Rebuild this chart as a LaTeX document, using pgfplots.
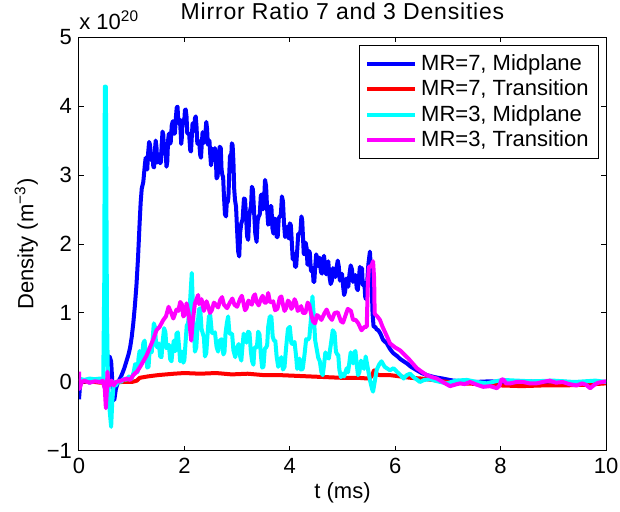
\documentclass[border=0pt]{standalone}
\usepackage{fontspec}
\setmainfont{Liberation Sans}
\usepackage{pgfplots}
\pgfplotsset{compat=1.18}
\newcommand{\ff}{\fontsize{11}{13}\selectfont}
\newcommand{\tf}{\fontsize{11.5}{13}\selectfont\addfontfeatures{LetterSpace=3.5}}
\begin{document}
\begin{tikzpicture}
\begin{axis}[
  scale only axis, width=263.5pt, height=207pt,
  xmin=0, xmax=10, ymin=-1, ymax=5,
  xtick={0,2,4,6,8,10}, xticklabels={0,2,4,6,8,10},
  ytick={-1,0,1,2,3,4,5}, yticklabels={−1,0,1,2,3,4,5},
  tick align=inside, tick pos=both, major tick length=2.5pt,
  every tick/.style={black, line width=0.5pt},
  axis line style={line width=0.5pt},
  tick label style={font=\ff},
  every axis title shift=0pt,
  title={Mirror Ratio 7 and 3 Densities},
  title style={font=\tf, at={(rel axis cs:0.5,1)}, anchor=base, yshift=9pt},
  xlabel={t (ms)},
  xlabel style={font=\ff, at={(rel axis cs:0.5,0)}, anchor=base, yshift=-24pt},
  ylabel={Density (m\textsuperscript{−3})},
  ylabel style={font=\ff, at={(rel axis cs:0,0.5)}, anchor=base, rotate=0, yshift=22.8pt},
  legend style={font=\ff, at={(rel axis cs:1,1)}, anchor=north east, xshift=-3.5pt, yshift=-4pt,
    draw=black, line width=0.5pt, inner xsep=3pt, inner ysep=2.5pt, row sep=-0.8pt},
  legend cell align=left,
  legend image code/.code={\draw[#1, line width=2pt] (0pt,0pt) -- (24pt,0pt);},
  every axis plot/.append style={line width=2pt, line join=round},
]
\addplot[color={rgb,1:red,0;green,0;blue,1}] coordinates {
(0.00,-0.25)(0.02,-0.05)(0.05,0.02)(0.1,0.0)(0.15,0.02)(0.2,-0.01)(0.25,0.01)(0.3,0.0)(0.35,0.02)(0.4,0.0)(0.45,0.01)(0.48,-0.05)(0.52,-0.15)(0.55,0.1)(0.58,0.37)(0.61,0.3)(0.64,-0.1)(0.67,-0.26)(0.7,-0.1)(0.74,0.0)(0.78,0.05)(0.82,0.12)(0.86,0.2)(0.9,0.3)(0.94,0.4)(0.97,0.5)(1.0,0.65)(1.03,0.85)(1.06,1.1)(1.09,1.4)(1.12,1.8)(1.15,2.3)(1.17,2.6)(1.19,2.8)(1.22,2.9)
(1.25,3.15)(1.265,3.25)(1.28,3.1)(1.295,3.08)(1.31,3.3)(1.33,3.48)(1.35,3.43)(1.365,3.22)(1.38,3.25)(1.395,3.3)(1.41,3.12)(1.425,3.11)(1.44,3.35)(1.455,3.5)(1.47,3.41)(1.485,3.18)(1.5,3.2)(1.52,3.3)(1.54,3.17)(1.555,3.19)(1.57,3.45)(1.585,3.63)(1.6,3.58)(1.615,3.32)(1.63,3.3)(1.645,3.33)(1.66,3.12)(1.675,3.19)(1.69,3.5)(1.705,3.6)(1.72,3.45)(1.74,3.47)(1.76,3.72)(1.78,3.78)(1.8,3.6)(1.82,3.6)(1.84,3.85)(1.855,3.98)(1.87,3.99)(1.885,3.75)(1.9,3.75)(1.915,3.8)(1.93,3.6)(1.94,3.45)(1.95,3.53)(1.965,3.79)(1.98,3.8)(1.995,3.75)(2.01,3.94)(2.025,3.95)(2.04,3.85)(2.055,3.6)(2.07,3.6)(2.09,3.6)(2.11,3.36)(2.125,3.34)(2.14,3.55)(2.155,3.75)(2.17,3.7)(2.185,3.64)(2.2,3.82)(2.215,3.85)(2.23,3.7)(2.245,3.46)(2.26,3.45)(2.28,3.49)(2.3,3.29)(2.315,3.25)(2.33,3.45)(2.345,3.62)(2.36,3.55)(2.38,3.47)(2.4,3.62)(2.415,3.77)(2.43,3.67)(2.445,3.44)(2.46,3.45)(2.475,3.5)(2.49,3.3)(2.505,3.14)(2.52,3.22)(2.535,3.38)(2.55,3.3)(2.565,3.22)(2.58,3.39)(2.595,3.29)(2.61,2.95)(2.63,2.98)(2.65,3.2)(2.67,3.41)(2.69,3.39)(2.705,3.08)(2.72,3.0)(2.735,2.97)(2.75,2.7)(2.77,2.43)(2.79,2.4)(2.805,2.62)(2.82,2.6)(2.835,2.68)(2.85,3.0)(2.865,3.27)(2.88,3.3)(2.89,3.28)(2.9,3.46)(2.915,3.43)(2.93,3.2)(2.945,2.8)(2.96,2.64)(2.98,2.54)(3.0,2.2)(3.02,1.89)(3.04,1.82)(3.06,2.18)(3.08,2.3)(3.105,2.36)(3.13,2.66)(3.15,2.65)(3.17,2.4)(3.19,2.11)(3.21,2.06)(3.23,2.4)(3.25,2.5)(3.265,2.55)(3.28,2.83)(3.3,2.79)(3.32,2.5)(3.345,2.15)(3.37,2.03)(3.39,2.34)(3.41,2.4)(3.43,2.43)(3.45,2.7)(3.47,2.72)(3.49,2.5)(3.51,2.6)(3.53,2.93)(3.55,2.84)(3.57,2.5)(3.59,2.28)(3.61,2.3)(3.63,2.55)(3.65,2.55)(3.67,2.23)(3.69,2.15)(3.71,2.37)(3.73,2.35)(3.75,2.1)(3.77,2.1)(3.79,2.37)(3.81,2.4)(3.83,2.42)(3.85,2.69)(3.87,2.62)(3.89,2.3)(3.91,2.1)(3.93,2.15)(3.95,2.25)(3.97,2.1)(3.985,2.08)(4.0,2.3)(4.02,2.27)(4.04,2.0)(4.055,1.78)(4.07,1.8)(4.085,1.86)(4.1,1.67)(4.12,1.67)(4.14,1.9)(4.16,2.15)(4.18,2.15)(4.2,2.16)(4.22,2.4)(4.235,2.35)(4.25,2.1)(4.265,1.86)(4.28,1.85)(4.3,2.02)(4.32,1.94)(4.335,1.7)(4.35,1.7)(4.365,1.9)(4.38,1.87)(4.4,1.62)(4.42,1.6)(4.435,1.65)(4.45,1.45)(4.465,1.45)(4.48,1.65)(4.5,1.85)(4.52,1.8)(4.535,1.68)(4.55,1.8)(4.57,1.8)(4.59,1.6)(4.61,1.57)(4.63,1.77)(4.65,1.83)(4.67,1.65)(4.69,1.56)(4.71,1.7)(4.73,1.75)(4.75,1.55)(4.775,1.42)(4.8,1.47)(4.82,1.65)(4.84,1.6)(4.865,1.52)(4.89,1.67)(4.91,1.76)(4.93,1.67)(4.95,1.47)(4.97,1.5)(4.99,1.57)(5.01,1.4)(5.03,1.26)(5.05,1.31)(5.07,1.5)(5.09,1.45)(5.11,1.38)(5.13,1.55)(5.155,1.69)(5.18,1.63)(5.2,1.45)(5.22,1.5)(5.245,1.55)(5.27,1.36)(5.29,1.33)(5.31,1.5)(5.33,1.67)(5.35,1.6)(5.37,1.65)(5.385,1.4)(5.4,1.4)(5.415,1.44)(5.43,1.24)(5.445,1.2)(5.46,1.35)(5.49,1.7)(5.52,1.89)(5.55,1.5)(5.57,1.0)(5.59,0.8)(5.62,0.8)(5.65,0.76)(5.68,0.75)(5.72,0.7)(5.77,0.61)(5.84,0.56)(5.9,0.48)(5.96,0.42)(6.03,0.38)(6.1,0.33)(6.16,0.3)(6.22,0.27)(6.3,0.22)(6.41,0.17)(6.5,0.13)(6.6,0.1)(6.75,0.07)(6.9,0.05)(7.1,0.02)(7.3,0.01)(7.5,0.0)(7.8,0.01)(8.0,0.0)(8.2,0.0)(8.5,0.01)(8.8,0.0)(9.1,0.01)(9.4,-0.01)(9.7,0.0)(10.0,0.0)
};
\addlegendentry{MR=7, Midplane}
\addplot[color={rgb,1:red,1;green,0;blue,0}] coordinates {
(0,0.0)(0.2,0.01)(0.4,-0.01)(0.5,0.0)(0.55,0.03)(0.6,-0.02)(0.8,0.0)(1.0,0.0)(1.1,0.02)(1.15,0.06)(1.3,0.08)(1.5,0.1)(1.8,0.12)(2.0,0.13)(2.3,0.12)(2.6,0.13)(2.9,0.11)(3.2,0.12)(3.5,0.1)(3.8,0.1)(4.1,0.09)(4.4,0.08)(4.7,0.07)(5.0,0.06)(5.3,0.06)(5.5,0.05)(5.55,0.08)(5.6,0.17)(5.63,0.12)(5.7,0.1)(5.9,0.1)(6.1,0.08)(6.3,0.06)(6.5,0.05)(6.8,0.02)(7.0,0.0)(7.3,-0.02)(7.6,-0.03)(8.0,-0.05)(8.4,-0.06)(8.8,-0.05)(9.2,-0.05)(9.6,-0.04)(10.0,-0.02)
};
\addlegendentry{MR=7, Transition}
\addplot[color={rgb,1:red,0;green,1;blue,1}] coordinates {
(0,0.05)(0.1,0.03)(0.2,0.05)(0.3,0.04)(0.4,0.05)(0.46,0.03)(0.48,1.5)(0.49,4.28)(0.51,4.28)(0.53,1.0)(0.55,0.0)(0.58,-0.4)(0.61,-0.65)(0.63,-0.3)(0.66,0.0)(0.7,-0.05)(0.75,0.02)(0.8,0.0)(0.85,0.05)(0.9,0.03)(0.95,0.08)(1.0,0.05)
(1.04,0.15)(1.065,0.26)(1.09,0.17)(1.11,0.14)(1.13,0.35)(1.15,0.45)(1.17,0.3)(1.195,0.31)(1.22,0.56)(1.245,0.6)(1.27,0.4)(1.295,0.21)(1.32,0.22)(1.34,0.46)(1.36,0.45)(1.38,0.43)(1.4,0.65)(1.42,0.85)(1.44,0.8)(1.465,0.53)(1.49,0.5)(1.515,0.56)(1.54,0.37)(1.565,0.36)(1.59,0.6)(1.615,0.78)(1.64,0.72)(1.66,0.49)(1.68,0.5)(1.705,0.54)(1.73,0.33)(1.755,0.3)(1.78,0.5)(1.8,0.6)(1.82,0.45)(1.835,0.45)(1.85,0.7)(1.875,0.72)(1.9,0.5)(1.92,0.3)(1.94,0.35)(1.96,0.44)(1.98,0.28)(2.0,0.32)(2.02,0.55)(2.045,0.82)(2.07,0.85)(2.11,1.2)(2.14,1.58)(2.17,0.9)(2.2,0.44)(2.225,0.5)(2.25,0.8)(2.275,1.05)(2.3,1.07)(2.325,0.77)(2.35,0.7)(2.37,0.65)(2.39,0.37)(2.415,0.42)(2.44,0.7)(2.465,0.95)(2.49,0.97)(2.52,0.72)(2.55,0.7)(2.58,0.72)(2.61,0.51)(2.64,0.44)(2.67,0.6)(2.705,0.62)(2.74,0.4)(2.76,0.43)(2.78,0.7)(2.805,0.85)(2.83,0.95)(2.855,0.7)(2.88,0.7)(2.905,0.7)(2.93,0.46)(2.965,0.36)(3.0,0.5)(3.03,0.55)(3.06,0.36)(3.08,0.31)(3.1,0.5)(3.125,0.7)(3.15,0.65)(3.18,0.57)(3.21,0.73)(3.235,0.71)(3.26,0.45)(3.285,0.3)(3.31,0.25)(3.33,0.5)(3.35,0.5)(3.375,0.5)(3.4,0.73)(3.425,0.69)(3.45,0.4)(3.475,0.21)(3.5,0.22)(3.525,0.48)(3.55,0.5)(3.57,0.53)(3.59,0.8)(3.62,0.95)(3.65,0.95)(3.675,0.66)(3.7,0.6)(3.725,0.6)(3.75,0.37)(3.78,0.22)(3.81,0.3)(3.84,0.36)(3.87,0.18)(3.9,0.22)(3.93,0.5)(3.965,0.77)(4.0,0.8)(4.03,0.56)(4.06,0.55)(4.09,0.58)(4.12,0.37)(4.14,0.19)(4.16,0.25)(4.185,0.34)(4.21,0.18)(4.245,0.19)(4.28,0.4)(4.31,0.62)(4.34,0.61)(4.37,0.64)(4.4,0.9)(4.43,1.24)(4.46,0.9)(4.48,0.61)(4.54,0.35)(4.57,0.3)(4.6,0.14)(4.625,0.1)(4.65,0.25)(4.675,0.43)(4.7,0.37)(4.74,0.34)(4.78,0.55)(4.815,0.75)(4.85,0.71)(4.875,0.44)(4.9,0.4)(4.92,0.39)(4.94,0.18)(4.97,0.07)(5.0,0.12)(5.03,0.08)(5.08,0.2)(5.105,0.14)(5.13,0.28)(5.155,0.43)(5.18,0.35)(5.2,0.27)(5.22,0.42)(5.245,0.45)(5.27,0.25)(5.295,0.1)(5.32,0.14)(5.35,0.31)(5.38,0.25)(5.41,0.19)(5.44,0.37)(5.48,0.2)(5.52,0.03)(5.56,-0.1)(5.58,-0.14)(5.61,0.0)(5.65,0.18)(5.7,0.26)(5.74,0.3)(5.8,0.22)(5.9,0.17)(5.97,0.2)(6.03,0.15)(6.1,0.1)(6.16,0.05)(6.22,0.1)(6.28,0.12)(6.35,0.07)(6.47,0.0)(6.55,0.03)(6.66,0.04)(6.8,0.01)(6.98,-0.02)(7.15,0.02)(7.36,0.03)(7.55,0.0)(7.74,-0.02)(7.9,0.01)(8.05,0.03)(8.3,0.02)(8.6,0.01)(9.0,0.02)(9.4,0.0)(9.8,0.02)(10.0,0.0)
};
\addlegendentry{MR=3, Midplane}
\addplot[color={rgb,1:red,1;green,0;blue,1}] coordinates {
(0.0,0.15)(0.01,-0.1)(0.05,0.0)(0.1,0.02)(0.2,-0.01)(0.3,0.01)(0.4,0.0)(0.45,0.02)(0.49,-0.1)(0.51,-0.38)(0.53,-0.1)(0.54,0.15)(0.56,0.0)(0.58,-0.05)(0.62,0.02)(0.66,-0.05)(0.7,0.0)(0.8,0.02)(0.9,0.05)(0.97,0.03)(1.03,0.1)(1.1,0.15)(1.16,0.22)(1.22,0.3)(1.28,0.38)(1.35,0.51)(1.41,0.62)(1.47,0.75)(1.53,0.8)(1.6,0.9)(1.65,0.95)(1.7,1.09)(1.75,1.0)(1.79,0.92)
(1.85,1.05)(1.885,1.03)(1.92,1.16)(1.95,1.13)(1.98,0.95)(2.01,0.98)(2.04,1.14)(2.08,1.0)(2.11,0.75)(2.13,0.6)(2.16,0.9)(2.2,1.14)(2.26,1.26)(2.28,1.13)(2.3,1.15)(2.325,1.2)(2.35,1.1)(2.37,1.03)(2.39,1.09)(2.42,1.17)(2.45,1.1)(2.485,1.0)(2.52,1.04)(2.56,1.15)(2.6,1.12)(2.64,1.08)(2.68,1.19)(2.715,1.23)(2.75,1.12)(2.81,1.07)(2.87,1.16)(2.91,1.21)(2.95,1.12)(3.0,1.09)(3.06,1.21)(3.09,1.25)(3.12,1.15)(3.15,1.04)(3.18,1.07)(3.215,1.18)(3.25,1.15)(3.28,1.12)(3.31,1.24)(3.34,1.27)(3.37,1.16)(3.41,1.11)(3.45,1.2)(3.485,1.25)(3.52,1.15)(3.555,1.15)(3.59,1.29)(3.62,1.17)(3.65,1.15)(3.685,1.17)(3.72,1.04)(3.765,1.06)(3.81,1.22)(3.84,1.24)(3.87,1.12)(3.9,1.03)(3.93,1.07)(3.965,1.18)(4.0,1.15)(4.03,1.06)(4.06,1.1)(4.09,1.2)(4.12,1.15)(4.15,1.03)(4.18,1.05)(4.215,1.1)(4.25,1.0)(4.295,1.0)(4.34,1.15)(4.37,1.12)(4.4,1.0)(4.44,0.88)(4.48,0.85)(4.515,0.97)(4.55,0.95)(4.6,0.9)(4.66,1.0)(4.7,1.05)(4.75,0.95)(4.8,0.9)(4.85,1.0)(4.91,1.01)(4.97,0.88)(5.01,0.86)(5.05,0.95)(5.1,1.06)(5.16,1.03)(5.2,0.9)(5.25,0.9)(5.3,0.85)(5.36,0.75)(5.42,0.8)(5.46,0.8)(5.48,1.4)(5.5,1.67)(5.55,1.68)(5.58,1.75)(5.6,1.5)(5.61,0.99)(5.66,0.95)(5.71,0.9)(5.76,0.8)(5.79,0.75)(5.85,0.65)(5.9,0.56)(6.0,0.5)(6.09,0.46)(6.17,0.4)(6.25,0.34)(6.33,0.27)(6.41,0.2)(6.5,0.15)(6.6,0.1)(6.7,0.07)(6.79,0.05)(6.9,0.0)(7.04,-0.06)(7.13,-0.04)(7.23,-0.02)(7.32,-0.03)(7.42,0.0)(7.55,-0.04)(7.67,-0.07)(7.8,-0.06)(7.93,-0.09)(7.98,-0.05)(8.02,0.04)(8.06,0.03)(8.1,-0.02)(8.18,-0.02)(8.3,0.0)(8.43,0.0)(8.55,-0.02)(8.68,-0.02)(8.8,0.0)(8.93,0.02)(9.05,-0.01)(9.18,0.0)(9.3,-0.03)(9.44,-0.05)(9.55,-0.02)(9.62,-0.04)(9.7,-0.09)(9.78,-0.04)(9.85,-0.01)(9.93,0.0)(10.0,0.01)
};
\addlegendentry{MR=3, Transition}
\end{axis}
\node[font=\ff, anchor=base west, inner sep=0pt] at ([yshift=3.9pt]current axis.north west) {x 10\textsuperscript{20}};
\pgfresetboundingbox
\path[use as bounding box] ([xshift=-39.5pt,yshift=-30.5pt]current axis.south west) rectangle ([xshift=7pt,yshift=18.5pt]current axis.north east);
\end{tikzpicture}
\end{document}
